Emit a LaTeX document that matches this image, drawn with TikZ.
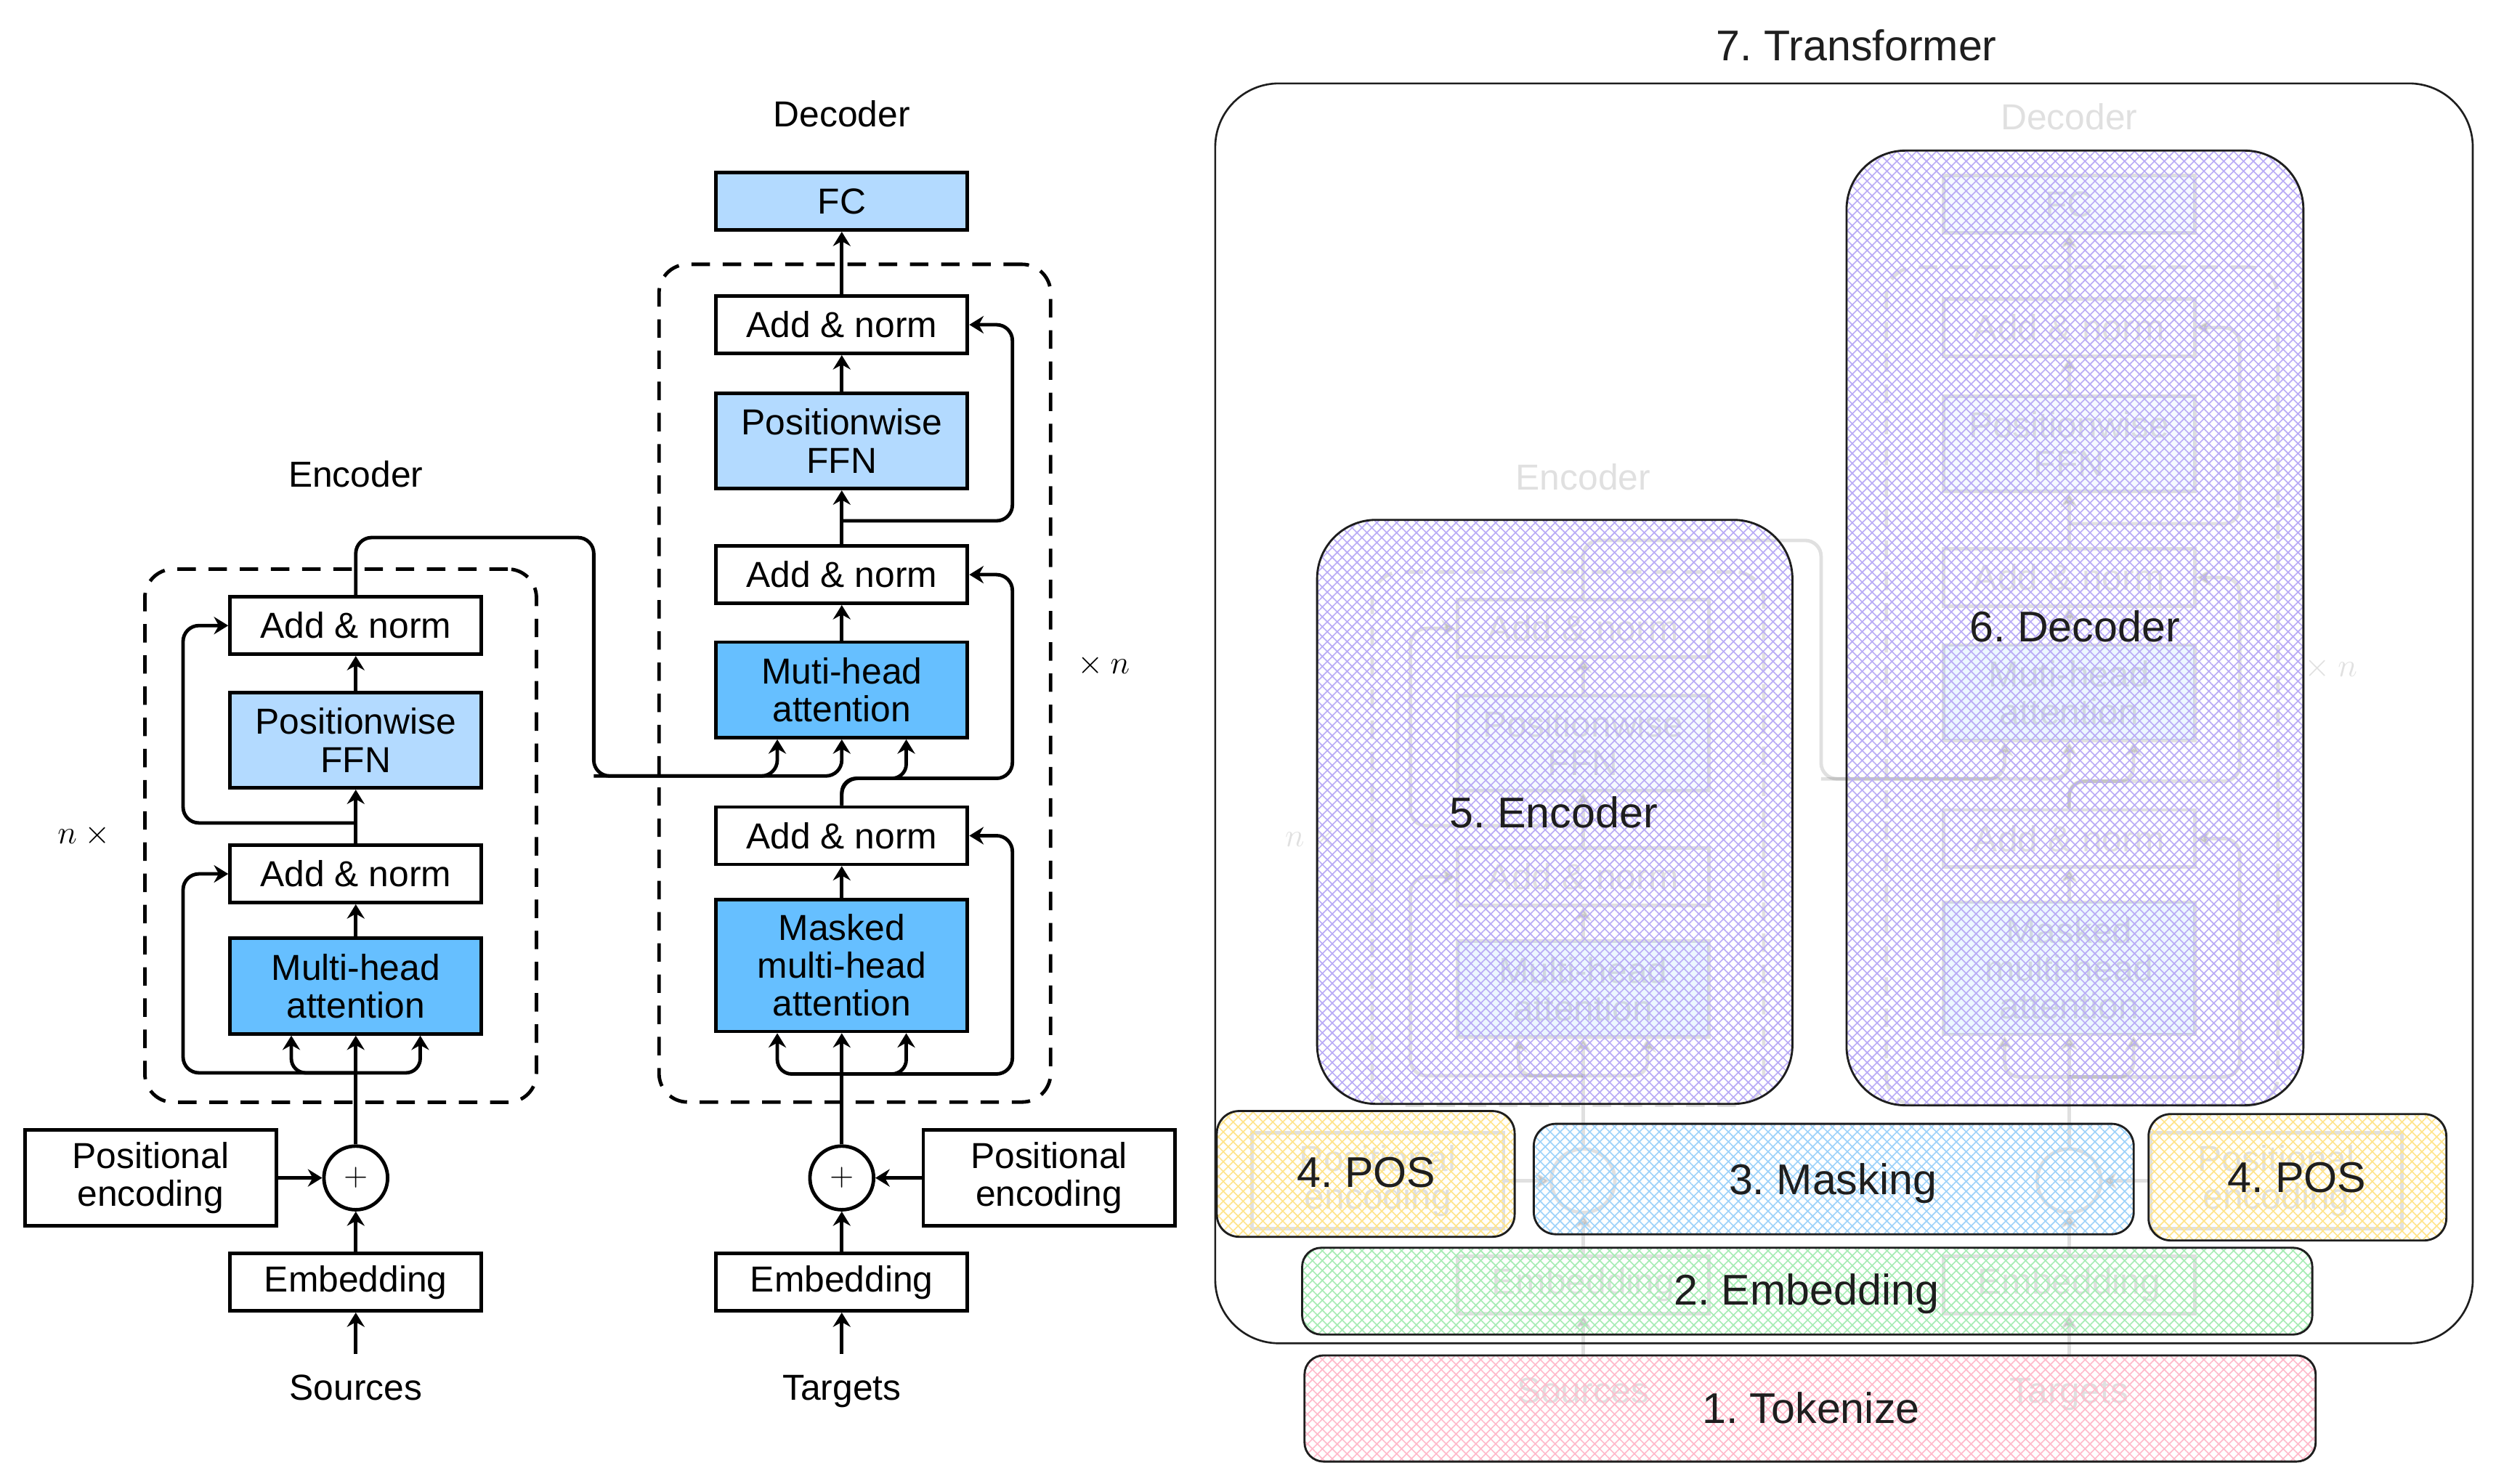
\documentclass[tikz,border=0pt]{standalone}
\usepackage{fontspec}
\setmainfont{Liberation Sans}
\usetikzlibrary{arrows.meta,calc,patterns.meta}
\frenchspacing
\definecolor{mhablue}{HTML}{66BFFF}
\definecolor{ffnblue}{HTML}{B3DAFF}
\definecolor{hviolet}{HTML}{B9ABF6}
\definecolor{hblue}{HTML}{9DD2FA}
\definecolor{hyellow}{HTML}{FFE48A}
\definecolor{hpink}{HTML}{FFBACB}
\definecolor{hgreen}{HTML}{A6ECB4}
\definecolor{outl}{HTML}{1E1E1E}
\newcommand\bfnt{\fontsize{22.7}{23.8}\selectfont}
\newcommand\hfnt{\fontsize{27}{30}\selectfont}
\tikzset{
  box/.style={draw, line width=2.2pt, minimum width=158pt, inner sep=0pt, align=center, font=\bfnt},
  onebox/.style={box, minimum height=36pt},
  twobox/.style={box, minimum height=60pt},
  threebox/.style={box, minimum height=83pt},
  lbl/.style={font=\bfnt, inner sep=0pt},
  arr/.style={line width=2.2pt, -{Stealth[length=9pt,width=11pt,inset=3pt]}},
  dbox/.style={draw, line width=2.2pt, dash pattern=on 11.6pt off 8pt, rounded corners=18pt},
  plusc/.style={circle, draw, line width=2.2pt, minimum size=40pt, inner sep=0pt, font=\bfnt},
  hlbl/.style={font=\hfnt, text=outl, inner sep=0pt}
}
\newcommand\hatchreg[4]{%
  \path[pattern={Lines[angle=45,distance=4.4pt,line width=0.75pt]}, pattern color=#1, rounded corners=#2] #3 rectangle #4;
  \path[pattern={Lines[angle=-45,distance=4.4pt,line width=0.75pt]}, pattern color=#1, rounded corners=#2] #3 rectangle #4;
  \draw[line width=1.3pt, outl, rounded corners=#2] #3 rectangle #4;}
\newcommand\tfdiagram{%
  % ---------- encoder ----------
  \node[lbl, anchor=base] (enclbl) at (223.5,305.8) {Encoder};
  \node[dbox, minimum width=246pt, minimum height=335pt] (ebx) at (214,525) {};
  \node[onebox] (ean2) at (223.5,393) {Add \& norm};
  \node[twobox, fill=ffnblue] (effn) at (223.5,465) {Positionwise\\FFN};
  \node[onebox] (ean1) at (223.5,549) {Add \& norm};
  \node[twobox, fill=mhablue] (emha) at (223.5,619.5) {Multi-head\\attention};
  \node[plusc] (ecirc) at (223.5,740) {$+$};
  \node[twobox] (epe) at (94.6,740) {Positional\\encoding};
  \node[onebox] (eemb) at (223.5,805.5) {Embedding};
  \node[lbl, anchor=base] (esrc) at (223.5,879.6) {Sources};
  \node[lbl] (enx) at (55,525) {$n\times{}$};
  \coordinate (esin) at (223.5,850.5);
  \coordinate (ej1) at (223.5,674);
  \coordinate (ej2) at (223.5,517);
  \coordinate (eL) at (115,600);
  \coordinate (eo) at (373,337.7);
  \coordinate (em) at (373,487.5);
  % ---------- decoder ----------
  \node[lbl, anchor=base] (declbl) at (528.8,79.7) {Decoder};
  \node[onebox, fill=ffnblue] (dfc) at (528.8,126.5) {FC};
  \node[dbox, minimum width=246pt, minimum height=526.3pt] (dbx) at (537,429.2) {};
  \node[onebox] (dan3) at (528.8,204) {Add \& norm};
  \node[twobox, fill=ffnblue] (dffn) at (528.8,277) {Positionwise\\FFN};
  \node[onebox] (dan2) at (528.8,361) {Add \& norm};
  \node[twobox, fill=mhablue] (dmha) at (528.8,433.4) {Muti-head\\attention};
  \node[onebox] (dan1) at (528.8,525) {Add \& norm};
  \node[threebox, fill=mhablue] (dmmha) at (528.8,606.5) {Masked\\multi-head\\attention};
  \node[plusc] (dcirc) at (528.8,740) {$+$};
  \node[twobox] (dpe) at (659,740) {Positional\\encoding};
  \node[onebox] (demb) at (528.8,805.5) {Embedding};
  \node[lbl, anchor=base] (dtgt) at (528.8,879.6) {Targets};
  \node[lbl] (dnx) at (691,418) {${}\times n$};
  \coordinate (dtin) at (528.8,850.5);
  \coordinate (dj1) at (528.8,674.7);
  \coordinate (dj2) at (528.8,489);
  \coordinate (dj3) at (528.8,327.2);
  \coordinate (dR) at (636,400);
  % ---------- encoder connectors ----------
  \draw[arr] (esin) -- (eemb);
  \draw[arr] (eemb) -- (ecirc);
  \draw[arr] (epe) -- (ecirc);
  \draw[arr] (ecirc) -- (emha);
  \draw[arr, rounded corners=9pt] (ej1) -| ($(emha.south)+(-40.5,0)$);
  \draw[arr, rounded corners=9pt] (ej1) -| ($(emha.south)+(40.5,0)$);
  \draw[arr, rounded corners=10pt] (ej1) -| (eL |- ean1.west) -- (ean1.west);
  \draw[arr] (emha) -- (ean1);
  \draw[arr] (ean1) -- (effn);
  \draw[arr, rounded corners=10pt] (ej2) -| (eL |- ean2.west) -- (ean2.west);
  \draw[arr] (effn) -- (ean2);
  \draw[arr, rounded corners=10pt] (ean2.north) |- (eo) -- (em) -| ($(dmha.south)+(-40.5,0)$);
  \draw[arr, rounded corners=10pt] (em) -| (dmha.south);
  % ---------- decoder connectors ----------
  \draw[arr] (dtin) -- (demb);
  \draw[arr] (demb) -- (dcirc);
  \draw[arr] (dpe) -- (dcirc);
  \draw[arr] (dcirc) -- (dmmha);
  \draw[arr, rounded corners=9pt] (dj1) -| ($(dmmha.south)+(-40.5,0)$);
  \draw[arr, rounded corners=9pt] (dj1) -| ($(dmmha.south)+(40.5,0)$);
  \draw[arr, rounded corners=10pt] (dj1) -| (dR |- dan1.east) -- (dan1.east);
  \draw[arr] (dmmha) -- (dan1);
  \draw[arr, rounded corners=9pt] (dan1.north) -- (dj2) -| ($(dmha.south)+(40.5,0)$);
  \draw[arr, rounded corners=10pt] (dan1.north) -- (dj2) -| (dR |- dan2.east) -- (dan2.east);
  \draw[arr] (dmha) -- (dan2);
  \draw[arr] (dan2) -- (dffn);
  \draw[arr, rounded corners=10pt] (dj3) -| (dR |- dan3.east) -- (dan3.east);
  \draw[arr] (dffn) -- (dan3);
  \draw[arr] (dan3) -- (dfc);
}
\begin{document}
\begin{tikzpicture}[x=1pt, y=-1pt]
  \useasboundingbox (0,0) rectangle (1568,932);
  \fill[white] (0,0) rectangle (1568,932);
  % left: full diagram
  \tfdiagram
  % right: faded copy
  \begin{scope}[shift={(771,1.8)}, opacity=0.12, name prefix=r-]
    \tfdiagram
  \end{scope}
  % transformer frame
  \draw[line width=1.2pt, outl, rounded corners=40pt] (763.4,52.4) rectangle (1553.4,843.9);
  \node[hlbl, anchor=base] (ttr) at (1166.3,38) {7. Transformer};
  % hatched regions
  \hatchreg{hviolet}{37pt}{(827.4,326.6)}{(1126,693.5)}
  \hatchreg{hviolet}{37pt}{(1160,94.6)}{(1447,694.4)}
  \hatchreg{hyellow}{14pt}{(764.4,698)}{(951.5,777)}
  \hatchreg{hblue}{14pt}{(963.5,706)}{(1340.4,775.4)}
  \hatchreg{hyellow}{14pt}{(1349.7,699.9)}{(1536.8,779.3)}
  \hatchreg{hgreen}{12pt}{(818,783.9)}{(1452.6,838.4)}
  \hatchreg{hpink}{12pt}{(819.5,851.5)}{(1454.7,918.2)}
  % region labels
  \node[hlbl, anchor=base] (tdec) at (1303.4,403) {6. Decoder};
  \node[hlbl, anchor=base] (tenc) at (976,520) {5. Encoder};
  \node[hlbl, anchor=base] (tpos1) at (858.3,746) {4. POS};
  \node[hlbl, anchor=base] (tmask) at (1151.4,750.5) {3. Masking};
  \node[hlbl, anchor=base] (tpos2) at (1443,749) {4. POS};
  \node[hlbl, anchor=base] (temb) at (1134.8,820) {2. Embedding};
  \node[hlbl, anchor=base] (ttok) at (1137.6,894) {1. Tokenize};
\end{tikzpicture}
\end{document}
